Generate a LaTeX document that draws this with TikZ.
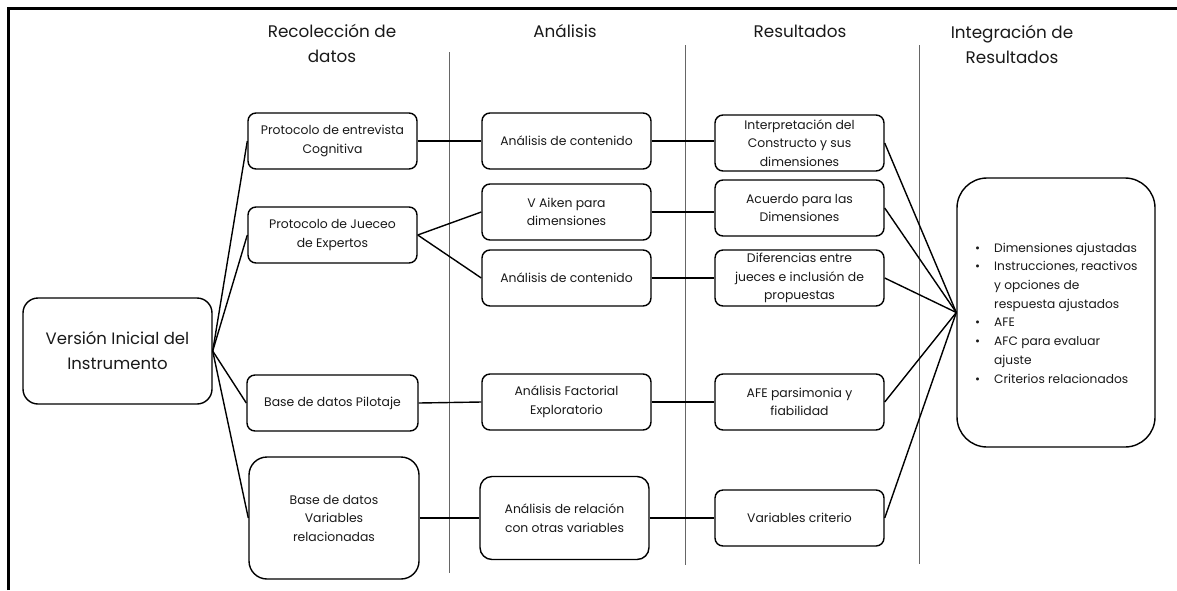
\documentclass[tikz,border=0pt]{standalone}
\usepackage{fontspec}
\setmainfont{Poppins}
\newcommand\bulx{\makebox[19pt][l]{\textbullet}}
\newcommand\indx{\hspace*{19pt}}
\begin{document}
\begin{tikzpicture}[x=1pt,y=-1pt,
  box/.style={draw=black, line width=1.4pt, rounded corners=8pt, minimum width=169pt, minimum height=56pt,
    align=center, inner sep=0pt, font=\fontsize{12.4}{18.5}\selectfont, text=black!90},
  conn/.style={line width=1.4pt},
  sep/.style={line width=0.8pt, draw=black!60},
  head/.style={align=center, font=\fontsize{16.8}{25}\selectfont, text=black!90}]
\useasboundingbox (0,0) rectangle (1177,590);
\draw[line width=2.5pt] (8.5,590) -- (8.5,8.5) -- (1177,8.5);
% headers
\node[head] (h1) at (332,43) {Recolección de\\datos};
\node[head] (h2) at (565,31) {Análisis};
\node[head] (h3) at (800,31) {Resultados};
\node[head] (h4) at (1012,44) {Integración de\\Resultados};
% separators
\draw[sep] (449,52) -- (449,573);
\draw[sep] (685,45) -- (685,565);
\draw[sep] (919,45) -- (919,564);
% left
\node[box, minimum width=189pt, minimum height=106pt, rounded corners=15pt, font=\fontsize{16.5}{25}\selectfont] (vi) at (117.5,351) {Versión Inicial del\\Instrumento};
% column 1
\node[box] (c1) at (332.5,141) {Protocolo de entrevista\\Cognitiva};
\node[box] (c2) at (332.5,235) {Protocolo de Jueceo\\de Expertos};
\node[box, minimum width=171pt] (c3) at (332.5,403) {Base de datos Pilotaje};
\node[box, minimum width=170pt, minimum height=122pt, rounded corners=18pt] (c4) at (334,518) {Base de datos\\Variables\\relacionadas};
% column 2
\node[box] (a1) at (566.5,141) {Análisis de contenido};
\node[box] (a2) at (566.5,212) {V Aiken para\\dimensiones};
\node[box] (a3) at (566.5,278) {Análisis de contenido};
\node[box] (a4) at (566.5,402) {Análisis Factorial\\Exploratorio};
\node[box, minimum height=83pt, rounded corners=12pt] (a5) at (564.5,518) {Análisis de relación\\con otras variables};
% column 3
\node[box] (r1) at (799.5,143) {Interpretación del\\Constructo y sus\\dimensiones};
\node[box] (r2) at (799.5,208) {Acuerdo para las\\Dimensiones};
\node[box] (r3) at (799.5,278) {Diferencias entre\\jueces e inclusión de\\propuestas};
\node[box] (r4) at (799.5,402) {AFE parsimonia y\\fiabilidad};
\node[box] (r5) at (799.5,518) {Variables criterio};
% integration
\node[box, minimum width=198pt, minimum height=269pt, rounded corners=30pt] (ig) at (1056,312.5) {};
\node[anchor=west, align=left, inner sep=0pt, font=\fontsize{12.2}{18.7}\selectfont, text=black!90] (lst) at (975,313)
 {\bulx Dimensiones ajustadas\\\bulx Instrucciones, reactivos\\\indx y opciones de\\\indx respuesta ajustados\\\bulx AFE\\\bulx AFC para evaluar\\\indx ajuste\\\bulx Criterios relacionados};
% connectors
\foreach \n in {c1,c2,c3,c4} \draw[conn] (vi.east) -- (\n.west);
\draw[conn] (c1.east) -- (a1.west);
\draw[conn] (c2.east) -- (a2.west);
\draw[conn] (c2.east) -- (a3.west);
\draw[conn] (c3.east) -- (a4.west);
\draw[conn] (c4.east) -- (a5.west);
\draw[conn] (a1.east) -- (a1.east -| r1.west);
\draw[conn] (a2.east) -- (a2.east -| r2.west);
\draw[conn] (a3.east) -- (r3.west);
\draw[conn] (a4.east) -- (r4.west);
\draw[conn] (a5.east) -- (r5.west);
\foreach \n in {r1,r2,r3,r4,r5} \draw[conn] (\n.east) -- (ig.west);
\end{tikzpicture}
\end{document}
